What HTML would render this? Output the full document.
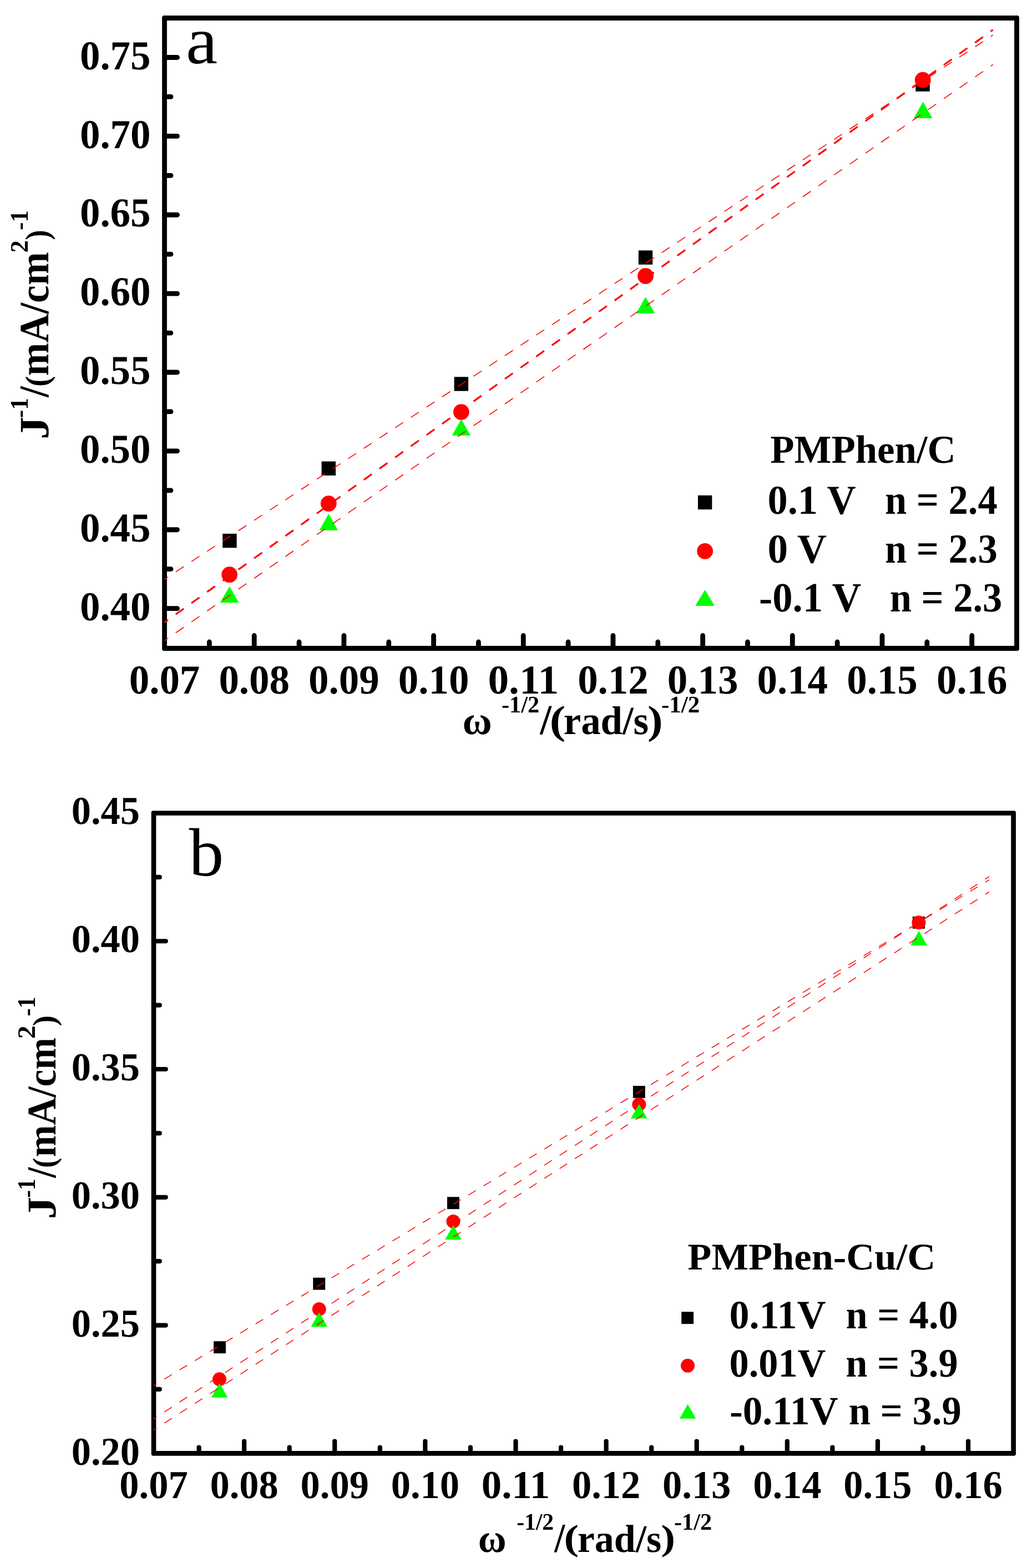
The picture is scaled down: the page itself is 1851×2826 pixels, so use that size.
<!DOCTYPE html>
<html lang="en">
<head>
<meta charset="utf-8">
<title>Koutecky-Levich plots for PMPhen/C and PMPhen-Cu/C</title>
<style>
html, body { margin: 0; padding: 0; background: #ffffff; }
body { width: 1851px; height: 2826px; overflow: hidden; }
svg { display: block; }
svg text { font-family: 'Liberation Serif', 'DejaVu Serif', serif; font-weight: bold; fill: #000000; white-space: pre; }
svg text { text-rendering: geometricPrecision; }
svg text.panel-letter { font-weight: normal; }
</style>
</head>
<body>
<svg width="1851" height="2826" viewBox="0 0 1851 2826" role="img" aria-label="Koutecky-Levich plots">
<rect x="0" y="0" width="1851" height="2826" fill="#ffffff"/>
<g id="panel-a">
  <g class="markers">
    <rect x="401.2" y="961.9" width="25.4" height="25.4" fill="#000000"/>
    <rect x="579.6" y="831.6" width="25.4" height="25.4" fill="#000000"/>
    <rect x="818.6" y="679.3" width="25.4" height="25.4" fill="#000000"/>
    <rect x="1150.8" y="451.4" width="25.4" height="25.4" fill="#000000"/>
    <rect x="1650.3" y="139.4" width="25.4" height="25.4" fill="#000000"/>
    <circle cx="413.6" cy="1035.7" r="14.4" fill="#ff0000"/>
    <circle cx="592.3" cy="907.6" r="14.4" fill="#ff0000"/>
    <circle cx="831.3" cy="742.6" r="14.4" fill="#ff0000"/>
    <circle cx="1163.5" cy="497.5" r="14.4" fill="#ff0000"/>
    <circle cx="1663.2" cy="144.1" r="14.4" fill="#ff0000"/>
    <polygon points="413.6,1056.7 430.4,1086.3 396.8,1086.3" fill="#00ff00"/>
    <polygon points="592.3,926.1 609.1,955.7 575.5,955.7" fill="#00ff00"/>
    <polygon points="831.3,755.5 848.1,785.1 814.5,785.1" fill="#00ff00"/>
    <polygon points="1163.5,535.2 1180.3,564.8 1146.7,564.8" fill="#00ff00"/>
    <polygon points="1663.6,183.5 1680.4,213.1 1646.8,213.1" fill="#00ff00"/>
  </g>
  <path class="frame" d="M294.3 28.1 H1834.7 L1836.9 30.3 V1170.7 L1834.7 1172.9 H294.3 L292.1 1170.7 V30.3 Z M300.9 36.9 V1164.1 H1828.1 V36.9 Z" fill="#000000" fill-rule="evenodd"/>
  <g class="ticks" stroke="#000000" stroke-width="8.8" stroke-linecap="round">
    <line x1="377.34" y1="1168.5" x2="377.34" y2="1157"/>
    <line x1="458.18" y1="1168.5" x2="458.18" y2="1145.5"/>
    <line x1="539.03" y1="1168.5" x2="539.03" y2="1157"/>
    <line x1="619.87" y1="1168.5" x2="619.87" y2="1145.5"/>
    <line x1="700.71" y1="1168.5" x2="700.71" y2="1157"/>
    <line x1="781.55" y1="1168.5" x2="781.55" y2="1145.5"/>
    <line x1="862.39" y1="1168.5" x2="862.39" y2="1157"/>
    <line x1="943.24" y1="1168.5" x2="943.24" y2="1145.5"/>
    <line x1="1024.08" y1="1168.5" x2="1024.08" y2="1157"/>
    <line x1="1104.92" y1="1168.5" x2="1104.92" y2="1145.5"/>
    <line x1="1185.76" y1="1168.5" x2="1185.76" y2="1157"/>
    <line x1="1266.61" y1="1168.5" x2="1266.61" y2="1145.5"/>
    <line x1="1347.45" y1="1168.5" x2="1347.45" y2="1157"/>
    <line x1="1428.29" y1="1168.5" x2="1428.29" y2="1145.5"/>
    <line x1="1509.13" y1="1168.5" x2="1509.13" y2="1157"/>
    <line x1="1589.97" y1="1168.5" x2="1589.97" y2="1145.5"/>
    <line x1="1670.82" y1="1168.5" x2="1670.82" y2="1157"/>
    <line x1="1751.66" y1="1168.5" x2="1751.66" y2="1145.5"/>
    <line x1="296.5" y1="1096.6" x2="319.5" y2="1096.6"/>
    <line x1="296.5" y1="1025.66" x2="308" y2="1025.66"/>
    <line x1="296.5" y1="954.73" x2="319.5" y2="954.73"/>
    <line x1="296.5" y1="883.79" x2="308" y2="883.79"/>
    <line x1="296.5" y1="812.86" x2="319.5" y2="812.86"/>
    <line x1="296.5" y1="741.92" x2="308" y2="741.92"/>
    <line x1="296.5" y1="670.99" x2="319.5" y2="670.99"/>
    <line x1="296.5" y1="600.05" x2="308" y2="600.05"/>
    <line x1="296.5" y1="529.11" x2="319.5" y2="529.11"/>
    <line x1="296.5" y1="458.18" x2="308" y2="458.18"/>
    <line x1="296.5" y1="387.24" x2="319.5" y2="387.24"/>
    <line x1="296.5" y1="316.31" x2="308" y2="316.31"/>
    <line x1="296.5" y1="245.37" x2="319.5" y2="245.37"/>
    <line x1="296.5" y1="174.44" x2="308" y2="174.44"/>
    <line x1="296.5" y1="103.5" x2="319.5" y2="103.5"/>
  </g>
  <g class="fits" fill="none" stroke="#ff0000">
    <line x1="296.5" y1="1044" x2="1789.6" y2="63.2" stroke-width="1.6" stroke-dasharray="17.23 16.57" stroke-dashoffset="9.57"/>
    <line x1="296.5" y1="1121.8" x2="1789.6" y2="53.8" stroke-width="3.2" stroke-dasharray="17.7 17.03" stroke-dashoffset="9.84"/>
    <line x1="296.5" y1="1154.6" x2="1789.6" y2="116.4" stroke-width="1.6" stroke-dasharray="17.54 16.87" stroke-dashoffset="9.74"/>
  </g>
  <g class="tick-labels" font-size="74">
    <text x="232.72" y="1249.6" textLength="127.56" lengthAdjust="spacingAndGlyphs">0.07</text>
    <text x="394.41" y="1249.6" textLength="127.56" lengthAdjust="spacingAndGlyphs">0.08</text>
    <text x="556.09" y="1249.6" textLength="127.56" lengthAdjust="spacingAndGlyphs">0.09</text>
    <text x="717.77" y="1249.6" textLength="127.56" lengthAdjust="spacingAndGlyphs">0.10</text>
    <text x="879.46" y="1249.6" textLength="127.56" lengthAdjust="spacingAndGlyphs">0.11</text>
    <text x="1041.14" y="1249.6" textLength="127.56" lengthAdjust="spacingAndGlyphs">0.12</text>
    <text x="1202.83" y="1249.6" textLength="127.56" lengthAdjust="spacingAndGlyphs">0.13</text>
    <text x="1364.51" y="1249.6" textLength="127.56" lengthAdjust="spacingAndGlyphs">0.14</text>
    <text x="1526.19" y="1249.6" textLength="127.56" lengthAdjust="spacingAndGlyphs">0.15</text>
    <text x="1687.88" y="1249.6" textLength="127.56" lengthAdjust="spacingAndGlyphs">0.16</text>
    <text x="143.94" y="1117.8" textLength="127.56" lengthAdjust="spacingAndGlyphs">0.40</text>
    <text x="143.94" y="975.93" textLength="127.56" lengthAdjust="spacingAndGlyphs">0.45</text>
    <text x="143.94" y="834.06" textLength="127.56" lengthAdjust="spacingAndGlyphs">0.50</text>
    <text x="143.94" y="692.19" textLength="127.56" lengthAdjust="spacingAndGlyphs">0.55</text>
    <text x="143.94" y="550.31" textLength="127.56" lengthAdjust="spacingAndGlyphs">0.60</text>
    <text x="143.94" y="408.44" textLength="127.56" lengthAdjust="spacingAndGlyphs">0.65</text>
    <text x="143.94" y="266.57" textLength="127.56" lengthAdjust="spacingAndGlyphs">0.70</text>
    <text x="143.94" y="124.7" textLength="127.56" lengthAdjust="spacingAndGlyphs">0.75</text>
  </g>
  <g class="legend">
    <rect x="1257.9" y="892.8" width="25.4" height="25.4" fill="#000000"/>
    <circle cx="1270.6" cy="993.3" r="14.4" fill="#ff0000"/>
    <polygon points="1270.6,1062.9 1288.1,1091.9 1253.1,1091.9" fill="#00ff00"/>
    <text x="1388.34" y="833.69" font-size="71.43" textLength="334.29" lengthAdjust="spacingAndGlyphs">PMPhen/C</text>
    <text x="1383.51" y="925.69" font-size="74.26" textLength="159.25" lengthAdjust="spacingAndGlyphs">0.1 V</text>
    <text x="1594.94" y="925.68" font-size="74.81" textLength="202.79" lengthAdjust="spacingAndGlyphs">n = 2.4</text>
    <text x="1383.47" y="1013.99" font-size="74.26" textLength="106.4" lengthAdjust="spacingAndGlyphs">0 V</text>
    <text x="1594.94" y="1013.59" font-size="74.22" textLength="202.8" lengthAdjust="spacingAndGlyphs">n = 2.3</text>
    <text x="1368.06" y="1102.18" font-size="74.85" textLength="184.22" lengthAdjust="spacingAndGlyphs">-0.1 V</text>
    <text x="1603.74" y="1101.78" font-size="74.81" textLength="202.6" lengthAdjust="spacingAndGlyphs">n = 2.3</text>
  </g>
  <text class="panel-letter" x="335.1" y="114.39" font-size="121.47" textLength="57.09" lengthAdjust="spacingAndGlyphs">a</text>
  <g class="x-title">
    <text x="833.49" y="1322.68" font-size="72.5" textLength="53.2" lengthAdjust="spacingAndGlyphs">ω</text>
    <text x="904.02" y="1283.77" font-size="42.69" textLength="68.11" lengthAdjust="spacingAndGlyphs">-1/2</text>
    <text x="973.15" y="1322.63" font-size="76.54" textLength="20.72" lengthAdjust="spacingAndGlyphs">/</text>
    <text x="990.52" y="1322.26" font-size="72.11" textLength="28.73" lengthAdjust="spacingAndGlyphs">(</text>
    <text x="1015.83" y="1323.18" font-size="72" textLength="153.28" lengthAdjust="spacingAndGlyphs">rad/s</text>
    <text x="1167.11" y="1322.26" font-size="72.11" textLength="27.67" lengthAdjust="spacingAndGlyphs">)</text>
    <text x="1192" y="1283.77" font-size="42.69" textLength="69.26" lengthAdjust="spacingAndGlyphs">-1/2</text>
  </g>
  <g class="y-title">
    <text transform="translate(87.45 792.02) rotate(-90)" font-size="75.15" textLength="41.28" lengthAdjust="spacingAndGlyphs">J</text>
    <text transform="translate(49.5 753.21) rotate(-90)" font-size="45.8" textLength="35.89" lengthAdjust="spacingAndGlyphs">-1</text>
    <text transform="translate(87.44 715.89) rotate(-90)" font-size="76.09" textLength="19.78" lengthAdjust="spacingAndGlyphs">/</text>
    <text transform="translate(86.92 697.11) rotate(-90)" font-size="59.89" textLength="19.33" lengthAdjust="spacingAndGlyphs">(</text>
    <text transform="translate(87.25 677.49) rotate(-90)" font-size="75.22" textLength="223.22" lengthAdjust="spacingAndGlyphs">mA/cm</text>
    <text transform="translate(49.5 455.17) rotate(-90)" font-size="45.45" textLength="22.17" lengthAdjust="spacingAndGlyphs">2</text>
    <text transform="translate(86.92 432.86) rotate(-90)" font-size="59.89" textLength="18.45" lengthAdjust="spacingAndGlyphs">)</text>
    <text transform="translate(49.5 414.68) rotate(-90)" font-size="45.8" textLength="35.33" lengthAdjust="spacingAndGlyphs">-1</text>
  </g>
</g>
<g id="panel-b">
  <g class="markers">
    <rect x="385.05" y="2417.25" width="21.9" height="21.9" fill="#000000"/>
    <rect x="564.25" y="2302.75" width="21.9" height="21.9" fill="#000000"/>
    <rect x="805.95" y="2157.25" width="21.9" height="21.9" fill="#000000"/>
    <rect x="1140.85" y="1957.05" width="21.9" height="21.9" fill="#000000"/>
    <rect x="1644.85" y="1651.85" width="21.9" height="21.9" fill="#000000"/>
    <circle cx="395.5" cy="2485.8" r="12.5" fill="#ff0000"/>
    <circle cx="575.2" cy="2359.5" r="12.5" fill="#ff0000"/>
    <circle cx="816.9" cy="2201.4" r="12.5" fill="#ff0000"/>
    <circle cx="1151.8" cy="1990.5" r="12.5" fill="#ff0000"/>
    <circle cx="1655.9" cy="1662.7" r="12.5" fill="#ff0000"/>
    <polygon points="395.6,2492.8 410.4,2518.8 380.8,2518.8" fill="#00ff00"/>
    <polygon points="575.2,2365.2 590,2391.2 560.4,2391.2" fill="#00ff00"/>
    <polygon points="816.9,2208.3 831.7,2234.3 802.1,2234.3" fill="#00ff00"/>
    <polygon points="1151.8,1989.8 1166.6,2015.8 1137,2015.8" fill="#00ff00"/>
    <polygon points="1656.1,1677.7 1670.9,1703.7 1641.3,1703.7" fill="#00ff00"/>
  </g>
  <path class="frame" d="M274.85 1461.15 H1828.75 L1830.95 1463.35 V2621.45 L1828.75 2623.65 H274.85 L272.65 2621.45 V1463.35 Z M281.35 1469.85 V2614.95 H1822.25 V1469.85 Z" fill="#000000" fill-rule="evenodd"/>
  <g class="ticks" stroke="#000000" stroke-width="8.2" stroke-linecap="round">
    <line x1="358.56" y1="2619.3" x2="358.56" y2="2608.55"/>
    <line x1="440.12" y1="2619.3" x2="440.12" y2="2597.55"/>
    <line x1="521.67" y1="2619.3" x2="521.67" y2="2608.55"/>
    <line x1="603.23" y1="2619.3" x2="603.23" y2="2597.55"/>
    <line x1="684.79" y1="2619.3" x2="684.79" y2="2608.55"/>
    <line x1="766.35" y1="2619.3" x2="766.35" y2="2597.55"/>
    <line x1="847.91" y1="2619.3" x2="847.91" y2="2608.55"/>
    <line x1="929.46" y1="2619.3" x2="929.46" y2="2597.55"/>
    <line x1="1011.02" y1="2619.3" x2="1011.02" y2="2608.55"/>
    <line x1="1092.58" y1="2619.3" x2="1092.58" y2="2597.55"/>
    <line x1="1174.14" y1="2619.3" x2="1174.14" y2="2608.55"/>
    <line x1="1255.69" y1="2619.3" x2="1255.69" y2="2597.55"/>
    <line x1="1337.25" y1="2619.3" x2="1337.25" y2="2608.55"/>
    <line x1="1418.81" y1="2619.3" x2="1418.81" y2="2597.55"/>
    <line x1="1500.37" y1="2619.3" x2="1500.37" y2="2608.55"/>
    <line x1="1581.93" y1="2619.3" x2="1581.93" y2="2597.55"/>
    <line x1="1663.48" y1="2619.3" x2="1663.48" y2="2608.55"/>
    <line x1="1745.04" y1="2619.3" x2="1745.04" y2="2597.55"/>
    <line x1="277" y1="2503.92" x2="287.75" y2="2503.92"/>
    <line x1="277" y1="2388.54" x2="298.75" y2="2388.54"/>
    <line x1="277" y1="2273.16" x2="287.75" y2="2273.16"/>
    <line x1="277" y1="2157.78" x2="298.75" y2="2157.78"/>
    <line x1="277" y1="2042.4" x2="287.75" y2="2042.4"/>
    <line x1="277" y1="1927.02" x2="298.75" y2="1927.02"/>
    <line x1="277" y1="1811.64" x2="287.75" y2="1811.64"/>
    <line x1="277" y1="1696.26" x2="298.75" y2="1696.26"/>
    <line x1="277" y1="1580.88" x2="287.75" y2="1580.88"/>
  </g>
  <g class="fits" fill="none" stroke="#ff0000">
    <line x1="277" y1="2497.2" x2="1783" y2="1585.6" stroke-width="1.5" stroke-dasharray="15.78 16.25" stroke-dashoffset="9.47"/>
    <line x1="277" y1="2557.3" x2="1783" y2="1579.8" stroke-width="1.5" stroke-dasharray="16.09 16.57" stroke-dashoffset="9.66"/>
    <line x1="277" y1="2577.3" x2="1783" y2="1607.3" stroke-width="1.5" stroke-dasharray="16.06 16.53" stroke-dashoffset="9.63"/>
  </g>
  <g class="tick-labels" font-size="71.3">
    <text x="215.36" y="2699.7" textLength="123.28" lengthAdjust="spacingAndGlyphs">0.07</text>
    <text x="378.48" y="2699.7" textLength="123.28" lengthAdjust="spacingAndGlyphs">0.08</text>
    <text x="541.59" y="2699.7" textLength="123.28" lengthAdjust="spacingAndGlyphs">0.09</text>
    <text x="704.71" y="2699.7" textLength="123.28" lengthAdjust="spacingAndGlyphs">0.10</text>
    <text x="867.82" y="2699.7" textLength="123.28" lengthAdjust="spacingAndGlyphs">0.11</text>
    <text x="1030.94" y="2699.7" textLength="123.28" lengthAdjust="spacingAndGlyphs">0.12</text>
    <text x="1194.06" y="2699.7" textLength="123.28" lengthAdjust="spacingAndGlyphs">0.13</text>
    <text x="1357.17" y="2699.7" textLength="123.28" lengthAdjust="spacingAndGlyphs">0.14</text>
    <text x="1520.29" y="2699.7" textLength="123.28" lengthAdjust="spacingAndGlyphs">0.15</text>
    <text x="1683.4" y="2699.7" textLength="123.28" lengthAdjust="spacingAndGlyphs">0.16</text>
    <text x="128.72" y="2640.1" textLength="123.28" lengthAdjust="spacingAndGlyphs">0.20</text>
    <text x="128.72" y="2409.08" textLength="123.28" lengthAdjust="spacingAndGlyphs">0.25</text>
    <text x="128.72" y="2178.06" textLength="123.28" lengthAdjust="spacingAndGlyphs">0.30</text>
    <text x="128.72" y="1947.04" textLength="123.28" lengthAdjust="spacingAndGlyphs">0.35</text>
    <text x="128.72" y="1716.02" textLength="123.28" lengthAdjust="spacingAndGlyphs">0.40</text>
    <text x="128.72" y="1485" textLength="123.28" lengthAdjust="spacingAndGlyphs">0.45</text>
  </g>
  <g class="legend">
    <rect x="1228.15" y="2364.25" width="21.9" height="21.9" fill="#000000"/>
    <circle cx="1239.5" cy="2461.3" r="12.5" fill="#ff0000"/>
    <polygon points="1239.6,2530.7 1254.4,2556.7 1224.8,2556.7" fill="#00ff00"/>
    <text x="1239.34" y="2287.52" font-size="68" textLength="446.76" lengthAdjust="spacingAndGlyphs">PMPhen-Cu/C</text>
    <text x="1314.52" y="2394.31" font-size="72.5" textLength="173.84" lengthAdjust="spacingAndGlyphs">0.11V</text>
    <text x="1524.54" y="2394.31" font-size="72.5" textLength="202.09" lengthAdjust="spacingAndGlyphs">n = 4.0</text>
    <text x="1314.59" y="2480.51" font-size="72.35" textLength="173.77" lengthAdjust="spacingAndGlyphs">0.01V</text>
    <text x="1524.14" y="2480.51" font-size="72.89" textLength="202.5" lengthAdjust="spacingAndGlyphs">n = 3.9</text>
    <text x="1314.91" y="2566.71" font-size="72.35" textLength="195.91" lengthAdjust="spacingAndGlyphs">-0.11V</text>
    <text x="1529.63" y="2566.71" font-size="72.89" textLength="203.21" lengthAdjust="spacingAndGlyphs">n = 3.9</text>
  </g>
  <text class="panel-letter" x="340.5" y="1578.47" font-size="123.14" textLength="62.72" lengthAdjust="spacingAndGlyphs">b</text>
  <g class="x-title">
    <text x="861.72" y="2796.58" font-size="72.29" textLength="50.83" lengthAdjust="spacingAndGlyphs">ω</text>
    <text x="931.14" y="2756.87" font-size="42.69" textLength="67.06" lengthAdjust="spacingAndGlyphs">-1/2</text>
    <text x="999.18" y="2796.56" font-size="74.44" textLength="19.03" lengthAdjust="spacingAndGlyphs">/</text>
    <text x="1016.36" y="2792.89" font-size="64.33" textLength="26.9" lengthAdjust="spacingAndGlyphs">(</text>
    <text x="1040.85" y="2796.9" font-size="70.14" textLength="151.44" lengthAdjust="spacingAndGlyphs">rad/s</text>
    <text x="1191.28" y="2792.89" font-size="64.33" textLength="25.75" lengthAdjust="spacingAndGlyphs">)</text>
    <text x="1214.92" y="2756.87" font-size="42.69" textLength="68.21" lengthAdjust="spacingAndGlyphs">-1/2</text>
  </g>
  <g class="y-title">
    <text transform="translate(100.46 2197.25) rotate(-90)" font-size="73.79" textLength="40.58" lengthAdjust="spacingAndGlyphs">J</text>
    <text transform="translate(62.5 2158.75) rotate(-90)" font-size="45.65" textLength="34.55" lengthAdjust="spacingAndGlyphs">-1</text>
    <text transform="translate(100.45 2122.83) rotate(-90)" font-size="74.59" textLength="18.75" lengthAdjust="spacingAndGlyphs">/</text>
    <text transform="translate(99.34 2104.99) rotate(-90)" font-size="57.89" textLength="18.42" lengthAdjust="spacingAndGlyphs">(</text>
    <text transform="translate(100.26 2085.23) rotate(-90)" font-size="73.73" textLength="215.01" lengthAdjust="spacingAndGlyphs">mA/cm</text>
    <text transform="translate(62.5 1872.22) rotate(-90)" font-size="45.3" textLength="23.98" lengthAdjust="spacingAndGlyphs">2</text>
    <text transform="translate(99.34 1849.24) rotate(-90)" font-size="57.89" textLength="19.34" lengthAdjust="spacingAndGlyphs">)</text>
    <text transform="translate(62.5 1831.58) rotate(-90)" font-size="45.65" textLength="35.33" lengthAdjust="spacingAndGlyphs">-1</text>
  </g>
</g>
</svg>
</body>
</html>
